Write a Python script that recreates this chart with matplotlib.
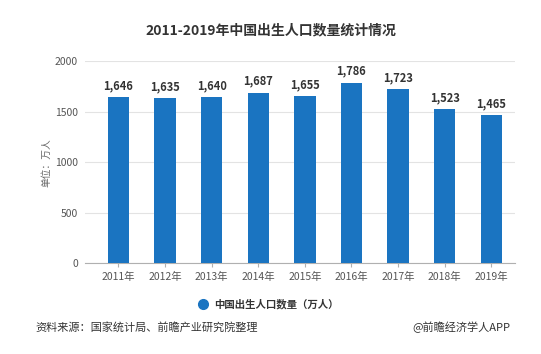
import numpy as np
import matplotlib.pyplot as plt

plt.rcParams['font.family'] = ['Noto Sans CJK SC', 'DejaVu Sans']

years = ['2011年', '2012年', '2013年', '2014年', '2015年', '2016年', '2017年', '2018年', '2019年']
births = [1646, 1635, 1640, 1687, 1655, 1786, 1723, 1523, 1465]
yticks = [0, 500, 1000, 1500, 2000]

bar_color = '#1a74c1'

fig = plt.figure(figsize=(5.41, 3.54), dpi=100)
ax = fig.add_axes([0.157, 0.256, 0.795, 0.572])

x = np.arange(len(years))
bars = ax.bar(x, births, width=0.46, color=bar_color, zorder=3)

# value labels above bars
for xi, v in zip(x, births):
    ax.annotate(f'{v:,}', (xi, v), xytext=(0, 3.5), textcoords='offset points',
                ha='center', va='bottom', fontsize=8, fontweight='bold', color='#333333')

ax.set_xlim(-0.72, 8.51)
ax.set_ylim(0, 2000)
ax.set_yticks(yticks)
ax.set_xticks(x)
ax.set_xticklabels(years)
ax.grid(axis='y', color='#e3e3e3', linewidth=0.8, zorder=0)
for s in ['top', 'right', 'left']:
    ax.spines[s].set_visible(False)
ax.spines['bottom'].set_color('#b0b0b0')
ax.tick_params(axis='y', length=0, labelsize=7.5, colors='#555555', pad=5)
ax.tick_params(axis='x', length=3, color='#b0b0b0', labelsize=7.5, labelcolor='#555555', pad=3)
ax.set_ylabel('单位：万人', fontsize=7, color='#666666')
ax.yaxis.set_label_coords(-0.079, 0.5)

fig.text(0.5, 0.915, '2011-2019年中国出生人口数量统计情况', ha='center', va='center',
         fontsize=10, fontweight='bold', color='#333333')

# legend
fig.lines.append(plt.Line2D([203 / 541], [1 - 304 / 354], marker='o', markersize=7,
                            color=bar_color, linestyle='none', transform=fig.transFigure))
fig.text(214 / 541, 1 - 304 / 354, '中国出生人口数量（万人）', ha='left', va='center',
         fontsize=7.5, fontweight='bold', color='#333333')

fig.text(35 / 541, 1 - 327 / 354, '资料来源：国家统计局、前瞻产业研究院整理', ha='left', va='center',
         fontsize=8, color='#333333')
fig.text(510 / 541, 1 - 327 / 354, '@前瞻经济学人APP', ha='right', va='center',
         fontsize=8, color='#333333')

fig.savefig('out.png', dpi=100, facecolor='white')
